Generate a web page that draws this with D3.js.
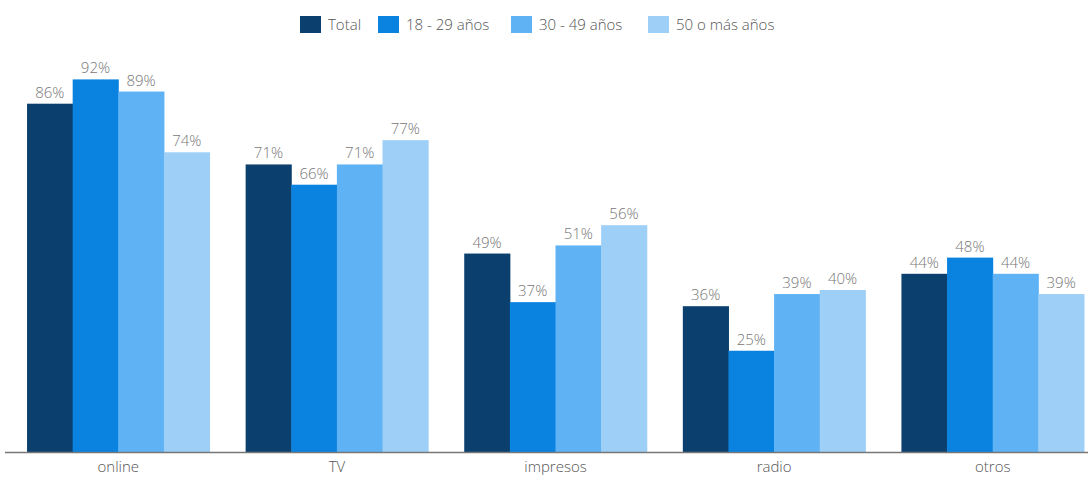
<!DOCTYPE html>
<html><head><meta charset="utf-8">
<script src="https://cdn.jsdelivr.net/npm/d3@7"></script>
<style>body{margin:0;background:#fff;}svg{display:block;font-family:"Open Sans",sans-serif;}</style>
</head><body><svg id="c" width="1088" height="477"></svg>
<script>
const categories = ["online","TV","impresos","radio","otros"];
const seriesNames = ["Total","18 - 29 años","30 - 49 años","50 o más años"];
const total = [86,71,49,36,44];
const age18_29 = [92,66,37,25,48];
const age30_49 = [89,71,51,39,44];
const age50plus = [74,77,56,40,39];
const colors = ["#0b3f6e","#0a83e0","#5fb3f5","#9dcff7"];
const seriesValues = [total, age18_29, age30_49, age50plus];

const svg = d3.select("#c");
const x0 = d3.scaleBand().domain(categories).range([9,1102]).paddingInner(0.165).paddingOuter(0.0825);
const x1 = d3.scaleBand().domain(seriesNames).range([0,x0.bandwidth()]);
const y = d3.scaleLinear().domain([0,100]).range([452,47]);

const g = svg.append("g");
categories.forEach((c,ci)=>{
  seriesNames.forEach((s,si)=>{
    const v = seriesValues[si][ci];
    g.append("rect").attr("x",x0(c)+x1(s)).attr("y",y(v)).attr("width",x1.bandwidth()+0.5).attr("height",y(0)-y(v)).attr("fill",colors[si]);
    g.append("text").attr("x",x0(c)+x1(s)+x1.bandwidth()/2).attr("y",y(v)-6).attr("text-anchor","middle")
      .attr("font-size",15).attr("font-weight",300).attr("fill","#777").text(v+"%");
  });
});

const xAxis = svg.append("g").attr("transform","translate(0,452)").call(d3.axisBottom(x0).tickSize(0).tickPadding(9));
xAxis.select(".domain").remove();
xAxis.selectAll("text").attr("font-size",15).attr("font-weight",300).attr("fill","#555").attr("font-family","'Open Sans',sans-serif");
svg.append("line").attr("x1",5).attr("x2",1088).attr("y1",452.5).attr("y2",452.5).attr("stroke","#777").attr("stroke-width",1.5);

// legend
const legX = [300,378,511,648];
const lg = svg.append("g");
seriesNames.forEach((s,i)=>{
  lg.append("rect").attr("x",legX[i]).attr("y",16).attr("width",21).attr("height",17).attr("fill",colors[i]);
  lg.append("text").attr("x",legX[i]+28).attr("y",30).attr("font-size",15).attr("font-weight",300).attr("fill","#555").text(s);
});
</script></body></html>
